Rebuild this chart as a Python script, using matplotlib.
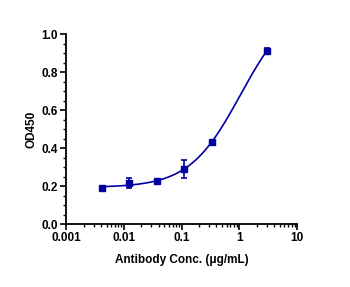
import numpy as np
import matplotlib.pyplot as plt
from matplotlib.ticker import MultipleLocator, LogLocator, FixedFormatter, FixedLocator

plt.rcParams['font.family'] = ['Liberation Sans', 'DejaVu Sans']

conc = [0.0041, 0.0123, 0.037, 0.111, 0.333, 3.0]
od = [0.190, 0.214, 0.226, 0.288, 0.433, 0.912]
err = [0.004, 0.026, 0.006, 0.048, 0.005, 0.015]
xticks = [0.001, 0.01, 0.1, 1, 10]
xlabels = ['0.001', '0.01', '0.1', '1', '10']

color = '#0000a0'

# 4PL fit: grid over EC50 and slope, linear least squares for bottom/top
x = np.array(conc)
y = np.array(od)
best = None
for c in np.logspace(-1, 1.5, 200):
    for b in np.linspace(0.5, 3, 100):
        f = 1.0 / (1 + (x / c) ** b)
        A = np.vstack([f, 1 - f]).T
        coef, res, *_ = np.linalg.lstsq(A, y, rcond=None)
        r = np.sum((A @ coef - y) ** 2)
        if best is None or r < best[0]:
            best = (r, c, b, coef)
_, c, b, (bottom, top) = best
xs = np.logspace(np.log10(0.0041), np.log10(3.0), 300)
fs = 1.0 / (1 + (xs / c) ** b)
ys = bottom * fs + top * (1 - fs)

fig = plt.figure(figsize=(3.5, 2.87), dpi=100)
ax = fig.add_axes([0.189, 0.2195, 0.66, 0.662])
ax.plot(xs, ys, color=color, lw=1.2)
ax.errorbar(conc, od, yerr=err, fmt='s', color=color, ms=5, capsize=2.5,
            elinewidth=1.2, capthick=1.2)

ax.set_xscale('log')
ax.set_xlim(0.001, 10)
ax.set_ylim(0, 1.0)
ax.xaxis.set_major_locator(FixedLocator(xticks))
ax.xaxis.set_major_formatter(FixedFormatter(xlabels))
ax.xaxis.set_minor_locator(LogLocator(base=10, subs=np.arange(2, 10)))
ax.yaxis.set_major_locator(MultipleLocator(0.2))
ax.yaxis.set_minor_locator(MultipleLocator(0.05))
ax.set_yticks([0, 0.2, 0.4, 0.6, 0.8, 1.0])
ax.set_yticklabels(['0.0', '0.2', '0.4', '0.6', '0.8', '1.0'])

for s in ['top', 'right']:
    ax.spines[s].set_visible(False)
for s in ['left', 'bottom']:
    ax.spines[s].set_linewidth(1.3)
ax.tick_params(which='major', length=4, width=1.2, labelsize=8.5, pad=2)
ax.tick_params(which='minor', length=2.5, width=1.0)
for lab in ax.get_xticklabels() + ax.get_yticklabels():
    lab.set_fontweight('bold')

ax.set_xlabel('Antibody Conc. (μg/mL)', fontsize=8.5, fontweight='bold', labelpad=7)
ax.set_ylabel('OD450', fontsize=8.5, fontweight='bold', labelpad=3)

fig.savefig('out.png', dpi=100)
